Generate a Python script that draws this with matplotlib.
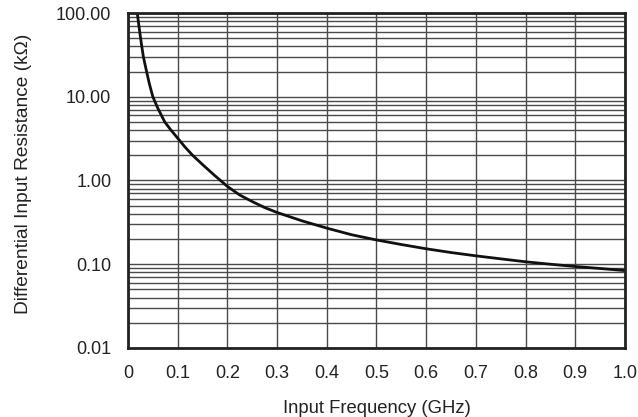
import numpy as np
import matplotlib
matplotlib.use("Agg")
import matplotlib.pyplot as plt
from matplotlib.ticker import FixedLocator, LogLocator, NullFormatter

plt.rcParams['font.family'] = ['Liberation Sans', 'DejaVu Sans']

# curve (GHz, kOhm)
freq_ghz = [0.0187, 0.022, 0.0268, 0.031, 0.0368, 0.043, 0.050, 0.060, 0.074, 0.085,
            0.100, 0.115, 0.130, 0.150, 0.175, 0.200, 0.225, 0.250, 0.275, 0.300,
            0.350, 0.400, 0.45, 0.50, 0.55, 0.60, 0.65, 0.70, 0.75, 0.80,
            0.85, 0.90, 0.95, 1.00]
resistance_kohm = [100, 70, 43.5, 30, 20.8, 14.3, 10, 7.3, 5.0, 4.1,
                   3.2, 2.5, 2.0, 1.55, 1.14, 0.85, 0.67, 0.56, 0.475, 0.415,
                   0.33, 0.27, 0.225, 0.195, 0.172, 0.153, 0.138, 0.126, 0.116, 0.107,
                   0.100, 0.094, 0.089, 0.084]

x_ticks = [0, 0.1, 0.2, 0.3, 0.4, 0.5, 0.6, 0.7, 0.8, 0.9, 1.0]
x_labels = ['0', '0.1', '0.2', '0.3', '0.4', '0.5', '0.6', '0.7', '0.8', '0.9', '1.0']
y_ticks = [0.01, 0.1, 1, 10, 100]
y_labels = ['0.01', '0.10', '1.00', '10.00', '100.00']

fig = plt.figure(figsize=(6.38, 4.17), dpi=100)
ax = fig.add_axes([0.2006, 0.1655, 0.779, 0.8033])

ax.set_yscale('log')
ax.set_xlim(0, 1.0)
ax.set_ylim(0.01, 100)

ax.xaxis.set_major_locator(FixedLocator(x_ticks))
ax.set_xticklabels(x_labels)
ax.yaxis.set_major_locator(FixedLocator(y_ticks))
ax.set_yticklabels(y_labels)
ax.yaxis.set_minor_locator(LogLocator(base=10, subs=np.arange(2, 10)))
ax.yaxis.set_minor_formatter(NullFormatter())

ax.grid(True, which='major', axis='both', color='#4a4a4a', linewidth=1.0)
ax.grid(True, which='minor', axis='y', color='#4a4a4a', linewidth=1.0)
ax.tick_params(which='both', length=0, labelsize=13, colors='#222222', pad=12)

ax.plot(freq_ghz, resistance_kohm, color='#111111', linewidth=2.0, zorder=5)

for s in ax.spines.values():
    s.set_linewidth(2.0)
    s.set_color('#222222')
    s.set_zorder(6)

ax.set_xlabel('Input Frequency (GHz)', fontsize=13.3, color='#222222', labelpad=13)
ax.set_ylabel('Differential Input Resistance (k\u03a9)', fontsize=13.8, color='#222222')
ax.yaxis.set_label_coords(-0.193, 0.52)

fig.savefig('out.png', dpi=100)
